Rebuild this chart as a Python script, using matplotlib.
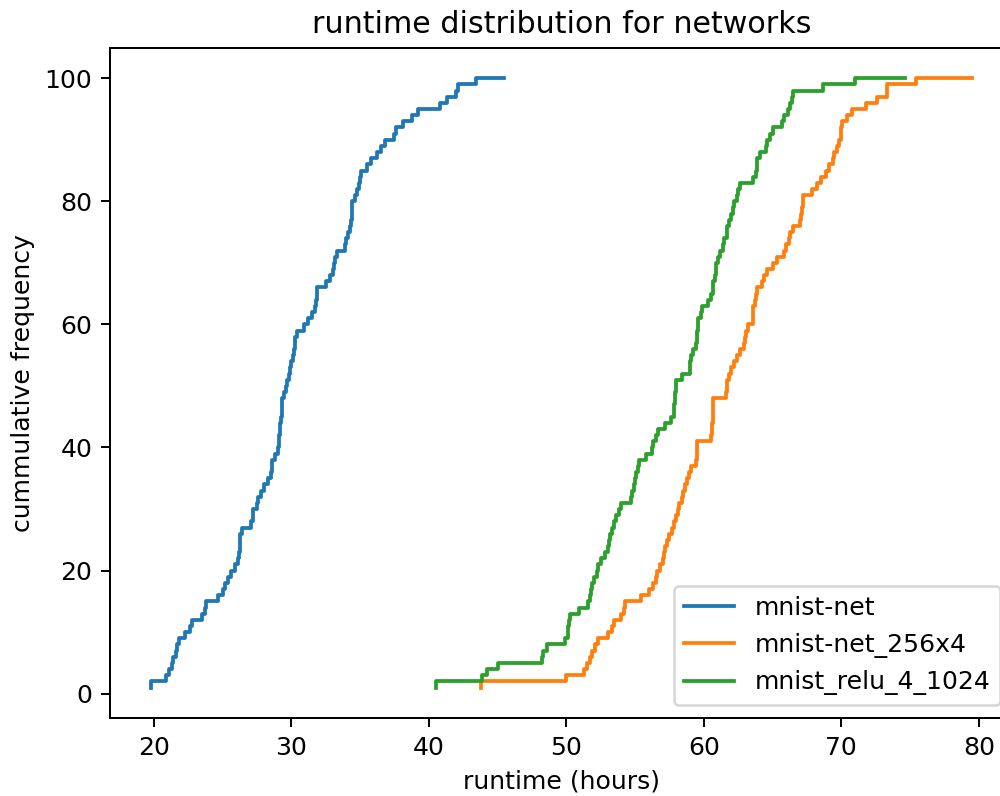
import numpy as np
import matplotlib
matplotlib.use('Agg')
import matplotlib.pyplot as plt

# sorted runtimes (hours), 100 runs per network
mnist_net = [19.8, 20.9, 21.1, 21.3, 21.4, 21.6, 21.7, 21.8, 22.3, 22.6,
             22.8, 23.5, 23.7, 23.8, 24.7, 25.0, 25.2, 25.4, 25.6, 25.9,
             26.1, 26.2, 26.25, 26.3, 26.3, 26.4, 27.1, 27.2, 27.2, 27.5,
             27.6, 27.8, 28.0, 28.3, 28.5, 28.6, 28.6, 28.8, 29.0, 29.1,
             29.1, 29.2, 29.2, 29.25, 29.3, 29.3, 29.35, 29.5, 29.6, 29.7,
             29.8, 29.9, 30.0, 30.1, 30.2, 30.25, 30.3, 30.4, 30.9, 31.2,
             31.5, 31.7, 31.8, 31.85, 31.9, 32.5, 32.8, 33.0, 33.1, 33.2,
             33.3, 33.9, 34.0, 34.1, 34.3, 34.35, 34.4, 34.4, 34.45, 34.6,
             34.8, 34.9, 35.0, 35.1, 35.5, 35.8, 36.2, 36.5, 36.8, 37.5,
             37.6, 38.1, 38.8, 39.2, 40.8, 41.3, 42.0, 42.1, 43.4, 45.5]

mnist_net_256x4 = [43.8, 50.0, 51.3, 51.5, 51.7, 51.9, 52.1, 52.3, 53.0, 53.3,
                   53.5, 54.0, 54.2, 54.3, 55.4, 56.0, 56.3, 56.5, 56.6, 56.8,
                   57.0, 57.1, 57.2, 57.3, 57.5, 57.7, 57.8, 58.0, 58.1, 58.2,
                   58.4, 58.5, 58.6, 58.75, 58.9, 59.1, 59.4, 59.5, 59.5, 59.5,
                   60.5, 60.6, 60.6, 60.65, 60.7, 60.7, 60.7, 61.6, 61.7, 61.7,
                   61.8, 62.0, 62.2, 62.4, 62.6, 62.9, 63.0, 63.1, 63.2, 63.6,
                   63.6, 63.6, 63.7, 63.8, 63.9, 64.2, 64.4, 64.6, 65.0, 65.3,
                   65.8, 66.0, 66.2, 66.3, 66.5, 67.0, 67.1, 67.15, 67.2, 67.2,
                   67.9, 68.2, 68.5, 68.9, 69.1, 69.4, 69.5, 69.7, 69.8, 69.95,
                   70.0, 70.05, 70.4, 70.8, 71.8, 72.6, 73.3, 73.3, 75.4, 79.5]

mnist_relu_4_1024 = [40.5, 43.9, 44.2, 45.0, 48.2, 48.3, 48.6, 49.9, 50.1, 50.15,
                     50.2, 50.3, 50.9, 51.6, 51.7, 51.8, 51.9, 52.0, 52.2, 52.3,
                     52.5, 52.8, 53.0, 53.1, 53.2, 53.3, 53.5, 53.6, 53.8, 54.0,
                     54.7, 54.8, 54.9, 55.0, 55.1, 55.2, 55.3, 55.8, 56.2, 56.3,
                     56.5, 56.7, 57.2, 57.6, 57.8, 57.85, 57.9, 57.9, 57.95, 58.0,
                     58.4, 59.0, 59.0, 59.1, 59.2, 59.4, 59.5, 59.5, 59.55, 59.6,
                     59.8, 59.9, 60.3, 60.5, 60.7, 60.7, 60.8, 60.85, 60.9, 61.0,
                     61.2, 61.4, 61.5, 61.7, 61.7, 61.8, 62.0, 62.1, 62.2, 62.4,
                     62.5, 62.6, 63.6, 63.8, 63.85, 63.9, 64.1, 64.5, 64.6, 64.8,
                     65.0, 65.7, 65.8, 66.1, 66.3, 66.4, 66.5, 68.7, 71.0, 74.6]

names = ['mnist-net', 'mnist-net_256x4', 'mnist_relu_4_1024']
runs = [mnist_net, mnist_net_256x4, mnist_relu_4_1024]

dpi = 181
fig = plt.figure(figsize=(1000 / dpi, 796 / dpi), dpi=dpi)
ax = fig.add_axes([0.11, 0.098, 0.903, 0.842])

for name, r in zip(names, runs):
    r = np.sort(r)
    ax.step(r, np.arange(1, len(r) + 1), label=name)

ax.set_title('runtime distribution for networks')
ax.set_xlabel('runtime (hours)')
ax.set_ylabel('cummulative frequency')
ax.legend(loc='lower right')

plt.savefig('out.png', dpi=dpi)
